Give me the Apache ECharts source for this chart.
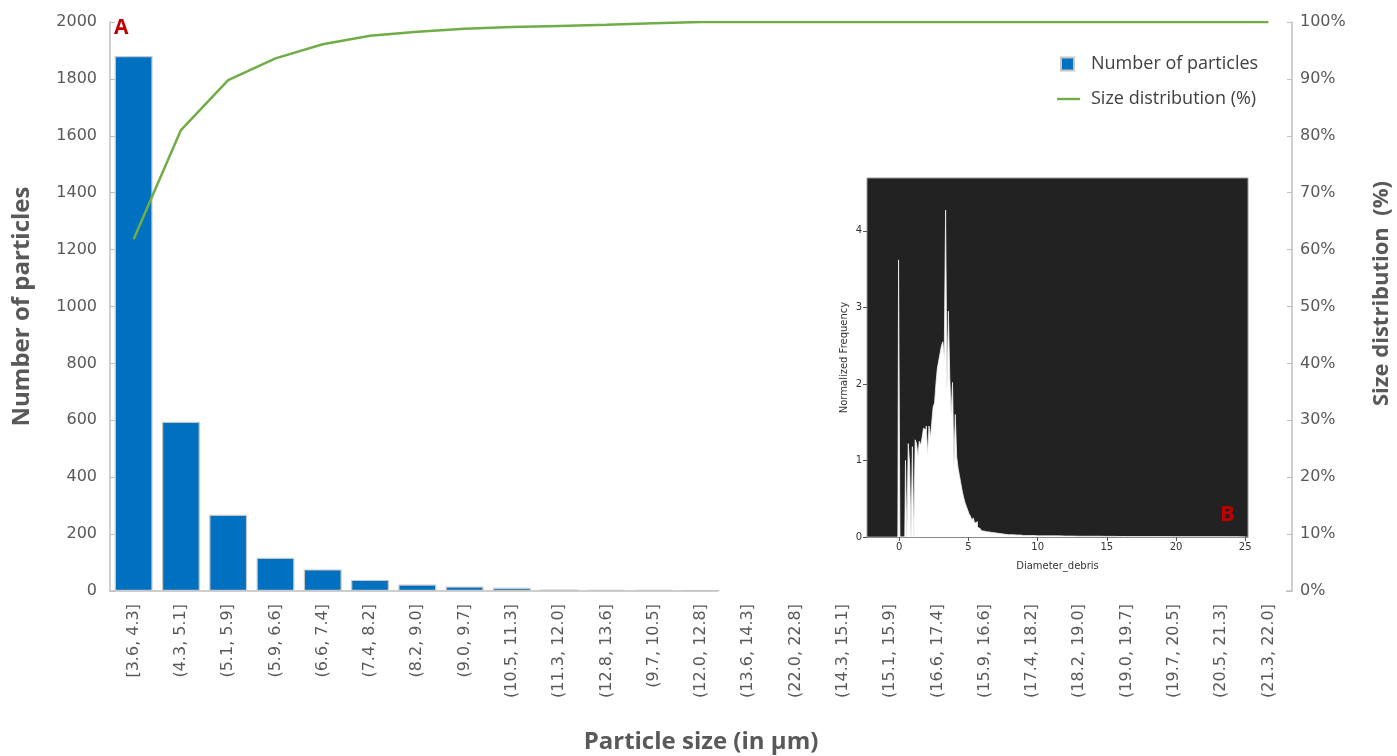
<!DOCTYPE html>
<html>
<head>
<meta charset="utf-8">
<title>Particle size distribution</title>
<script src="https://cdn.jsdelivr.net/npm/echarts@6/dist/echarts.min.js"></script>
<style>
  html, body { margin: 0; padding: 0; background: #fff; }
  #chart { width: 1397px; height: 756px; }
</style>
</head>
<body>
<div id="chart"></div>
<script>
// main chart (A)
const categories = [
  "[3.6, 4.3]", "(4.3, 5.1]", "(5.1, 5.9]", "(5.9, 6.6]", "(6.6, 7.4]",
  "(7.4, 8.2]", "(8.2, 9.0]", "(9.0, 9.7]", "(10.5, 11.3]", "(11.3, 12.0]",
  "(12.8, 13.6]", "(9.7, 10.5]", "(12.0, 12.8]", "(13.6, 14.3]", "(22.0, 22.8]",
  "(14.3, 15.1]", "(15.1, 15.9]", "(16.6, 17.4]", "(15.9, 16.6]", "(17.4, 18.2]",
  "(18.2, 19.0]", "(19.0, 19.7]", "(19.7, 20.5]", "(20.5, 21.3]", "(21.3, 22.0]"
];
const particleCounts = [1880, 595, 268, 117, 76, 39, 23, 16, 11, 5, 4, 4, 3, 0, 0, 0, 0, 0, 0, 0, 0, 0, 0, 0, 0];
const cumulativePct = [61.8, 81.0, 89.8, 93.6, 96.1, 97.6, 98.3, 98.8, 99.1, 99.3, 99.5, 99.8, 100, 100, 100, 100, 100, 100, 100, 100, 100, 100, 100, 100, 100];
const countTicks = [0, 2000, 200];
const pctTicks = [0, 100, 10];

// inset histogram (B)
const insetDiameter = [
  -0.1, 0.0, 0.1, 0.4, 0.5, 0.6, 0.7, 0.8, 0.9, 1.0, 1.1, 1.2, 1.3, 1.4, 1.5, 1.6, 1.7, 1.8, 1.9,
  2.0, 2.1, 2.2, 2.3, 2.4, 2.5, 2.6, 2.7, 2.8, 2.9, 3.0, 3.1, 3.2, 3.3, 3.4, 3.5, 3.6, 3.7, 3.8, 3.9,
  4.0, 4.1, 4.2, 4.3, 4.4, 4.5, 4.6, 4.7, 4.8, 4.9, 5.0, 5.1, 5.2, 5.3, 5.4, 5.5, 5.6, 5.7, 5.8, 5.9,
  6.0, 6.2, 6.4, 6.6, 6.8, 7.0, 7.2, 7.4, 7.6, 7.8, 8.0, 8.5, 9.0, 9.5, 10, 11, 12, 13, 14, 15,
  16, 17, 18, 20, 22, 24, 25
];
const insetFrequency = [
  0, 3.62, 0, 0, 1.0, 0, 1.22, 0.95, 0, 1.18, 0, 1.27, 1.22, 1.06, 1.25, 1.2, 1.3, 1.42, 1.4,
  1.45, 1.08, 1.45, 1.3, 1.5, 1.7, 1.75, 2.0, 2.2, 2.3, 2.4, 2.5, 2.55, 2.35, 4.27, 1.95, 2.95, 2.1, 1.6, 2.02,
  0.95, 1.6, 1.05, 0.9, 0.8, 0.7, 0.6, 0.52, 0.45, 0.4, 0.35, 0.3, 0.27, 0.22, 0.25, 0.18, 0.2, 0.13, 0.11, 0.1,
  0.08, 0.07, 0.065, 0.06, 0.055, 0.05, 0.045, 0.04, 0.035, 0.03, 0.03, 0.025, 0.02, 0.02, 0.015, 0.015, 0.012, 0.01, 0.01, 0.008,
  0.006, 0.005, 0.005, 0.004, 0.004, 0.003, 0
];
const insetXTicks = [0, 5, 10, 15, 20, 25];
const insetYTicks = [0, 1, 2, 3, 4];

const grey = "#595959";
const axisGrey = "#bfbfbf";

const chart = echarts.init(document.getElementById("chart"));
chart.setOption({
  animation: false,
  textStyle: { fontFamily: "DejaVu Sans" },
  grid: [
    { left: 110, right: 105, top: 22, bottom: 165, outerBoundsMode: "none" },
    {
      left: 867, top: 178, width: 381, height: 359, z: 2, outerBoundsMode: "none",
      show: true, backgroundColor: "#222222", borderColor: "#9a9a9a", borderWidth: 1
    }
  ],
  legend: {
    orient: "vertical",
    left: 1051,
    top: 50,
    itemWidth: 29,
    itemHeight: 13,
    itemGap: 17,
    textStyle: { color: "#404040", fontSize: 18, fontFamily: "Open Sans" },
    data: [
      { name: "Number of particles", icon: "path://M0,0 M29,13 M4,0L17,0L17,13L4,13Z" },
      { name: "Size distribution (%)", icon: "path://M0,0 M29,13 M0,5.3L23,5.3L23,7.7L0,7.7Z" }
    ]
  },
  xAxis: [
    {
      type: "category",
      gridIndex: 0,
      data: categories,
      axisLine: { lineStyle: { color: axisGrey, width: 1.5 } },
      axisTick: { show: false },
      axisLabel: { rotate: 90, color: grey, fontSize: 16, margin: 13, interval: 0 },
      name: "Particle size (in µm)",
      nameLocation: "middle",
      nameGap: 139,
      nameTextStyle: { color: grey, fontSize: 24, fontWeight: "bold", fontFamily: "Open Sans" }
    },
    {
      type: "value",
      gridIndex: 1,
      min: -2.33,
      max: 25.2,
      z: 3,
      splitLine: { show: false },
      axisLine: { onZero: false, lineStyle: { color: "#8a8a8a" } },
      axisTick: { customValues: insetXTicks, length: 4, lineStyle: { color: "#555" } },
      axisLabel: { customValues: insetXTicks, color: "#333", fontSize: 10, margin: 5 },
      name: "Diameter_debris",
      nameLocation: "middle",
      nameGap: 24,
      nameTextStyle: { color: "#333", fontSize: 10 }
    }
  ],
  yAxis: [
    {
      type: "value",
      gridIndex: 0,
      min: countTicks[0],
      max: countTicks[1],
      interval: countTicks[2],
      splitLine: { show: false },
      axisLine: { show: true, lineStyle: { color: axisGrey, width: 1.5 } },
      axisTick: { show: true, inside: true, length: 5, lineStyle: { color: axisGrey } },
      axisLabel: { color: grey, fontSize: 16, margin: 13, formatter: (v) => String(v) },
      name: "Number of particles",
      nameLocation: "middle",
      nameRotate: 90,
      nameGap: 76,
      nameTextStyle: { color: grey, fontSize: 24, fontWeight: "bold", fontFamily: "Open Sans" }
    },
    {
      type: "value",
      gridIndex: 0,
      position: "right",
      min: pctTicks[0],
      max: pctTicks[1],
      interval: pctTicks[2],
      splitLine: { show: false },
      axisLine: { show: true, lineStyle: { color: axisGrey, width: 1.5 } },
      axisTick: { show: true, inside: true, length: 5, lineStyle: { color: axisGrey } },
      axisLabel: { color: grey, fontSize: 16, margin: 8, formatter: "{value}%" },
      name: "Size distribution  (%)",
      nameLocation: "middle",
      nameRotate: 90,
      nameGap: 79,
      nameTextStyle: { color: grey, fontSize: 22, fontWeight: "bold", fontFamily: "Open Sans", padding: [0, 0, 0, 26] }
    },
    {
      type: "value",
      gridIndex: 1,
      min: 0,
      max: 4.69,
      z: 3,
      splitLine: { show: false },
      axisLine: { show: false, onZero: false },
      axisTick: { show: true, customValues: insetYTicks, length: 4, lineStyle: { color: "#555" } },
      axisLabel: { customValues: insetYTicks, color: "#333", fontSize: 10, margin: 5 },
      name: "Normalized Frequency",
      nameLocation: "middle",
      nameRotate: 90,
      nameGap: 18,
      nameTextStyle: { color: "#333", fontSize: 10 }
    }
  ],
  graphic: [
    {
      type: "rect",
      z: 1,
      shape: { x: 718, y: 150, width: 568, height: 448 },
      style: { fill: "#ffffff" }
    },
    {
      type: "text",
      left: 114,
      top: 18,
      style: { text: "A", fill: "#c00000", font: "bold 21px 'Open Sans'" }
    },
    {
      type: "text",
      left: 1220,
      top: 504,
      z: 10,
      style: { text: "B", fill: "#c00000", font: "bold 22px 'Open Sans'" }
    }
  ],
  series: [
    {
      name: "Number of particles",
      type: "bar",
      xAxisIndex: 0,
      yAxisIndex: 0,
      barCategoryGap: "20%",
      itemStyle: { color: "#0070c0", borderColor: "#c6c6c6", borderWidth: 1.2 },
      data: particleCounts.map((v) => (v === 0 ? "-" : v))
    },
    {
      name: "Size distribution (%)",
      type: "line",
      xAxisIndex: 0,
      yAxisIndex: 1,
      showSymbol: false,
      z: 3,
      lineStyle: { color: "#70ad47", width: 2.5 },
      itemStyle: { color: "#70ad47" },
      data: cumulativePct
    },
    {
      name: "inset",
      type: "line",
      xAxisIndex: 1,
      yAxisIndex: 2,
      step: "middle",
      showSymbol: false,
      z: 4,
      lineStyle: { color: "#f2f2f2", width: 0.8 },
      areaStyle: { color: "#ffffff", opacity: 1 },
      data: insetDiameter.map((d, i) => [d, insetFrequency[i]])
    }
  ]
});
</script>
</body>
</html>
